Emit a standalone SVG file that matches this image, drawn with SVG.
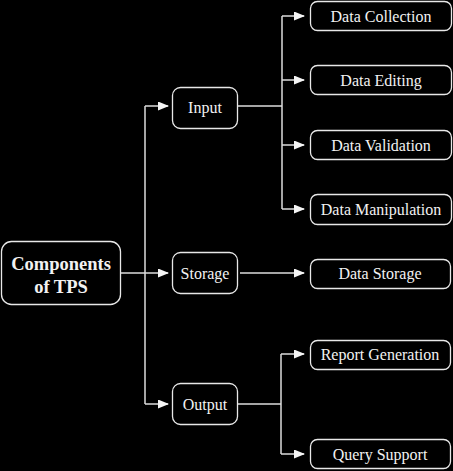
<svg xmlns="http://www.w3.org/2000/svg" width="453" height="471" viewBox="0 0 453 471">
<defs>
<style>
.bg{fill:#000}
.box{fill:#000;stroke:#e8e8e8;stroke-width:1.3}
.t{font-family:'Liberation Serif','Times New Roman',serif;font-size:16px;fill:#f2f2f2;text-anchor:middle}
.tb{font-family:'Liberation Serif','Times New Roman',serif;font-size:18.5px;font-weight:bold;fill:#f2f2f2;text-anchor:middle}
.c{fill:none;stroke:#dcdcdc;stroke-width:1.5}
.a{fill:none;stroke:#dcdcdc;stroke-width:1.5;marker-end:url(#arr)}
</style>
<marker id="arr" markerUnits="userSpaceOnUse" markerWidth="12" markerHeight="10" refX="10" refY="4.5" orient="auto">
<path d="M0,0 L11,4.5 L0,9 Z" fill="#f5f5f5"/>
</marker>
</defs>
<rect class="bg" x="0" y="0" width="453" height="471"/>
<g id="connectors">
<path class="c" d="M121,273 H145 M145,106 V404"/>
<path class="a" d="M145,106 H168"/>
<path class="a" d="M145,273 H168"/>
<path class="a" d="M145,404 H168"/>
<path class="c" d="M238,106 H282 M282,16 V209"/>
<path class="a" d="M282,16 H304"/>
<path class="a" d="M282,80 H304"/>
<path class="a" d="M282,145 H304"/>
<path class="a" d="M282,209 H304"/>
<path class="a" d="M240,273 H304"/>
<path class="c" d="M238,404 H281 M281,354 V454"/>
<path class="a" d="M281,354 H304"/>
<path class="a" d="M281,454 H304"/>
</g>
<g id="root">
<rect class="box" x="1.5" y="241.5" width="119" height="63" rx="10"/>
<text class="tb" x="61" y="270">Components</text>
<text class="tb" x="61" y="293">of TPS</text>
</g>
<g id="input">
<rect class="box" x="172.5" y="87.5" width="65" height="41" rx="8"/>
<text class="t" x="205" y="113">Input</text>
</g>
<g id="storage">
<rect class="box" x="172.5" y="252.5" width="65" height="41" rx="8"/>
<text class="t" x="205" y="279">Storage</text>
</g>
<g id="output">
<rect class="box" x="172.5" y="383.5" width="65" height="41" rx="8"/>
<text class="t" x="205" y="410">Output</text>
</g>
<g id="data-collection">
<rect class="box" x="310.5" y="1.5" width="141" height="29" rx="7"/>
<text class="t" x="381" y="21.5">Data Collection</text>
</g>
<g id="data-editing">
<rect class="box" x="310.5" y="65.5" width="141" height="29" rx="7"/>
<text class="t" x="381" y="85.5">Data Editing</text>
</g>
<g id="data-validation">
<rect class="box" x="310.5" y="130.5" width="141" height="29" rx="7"/>
<text class="t" x="381" y="150.5">Data Validation</text>
</g>
<g id="data-manipulation">
<rect class="box" x="310.5" y="194.5" width="141" height="30" rx="7"/>
<text class="t" x="381" y="215">Data Manipulation</text>
</g>
<g id="data-storage">
<rect class="box" x="310.5" y="259.5" width="140" height="29" rx="7"/>
<text class="t" x="380" y="279">Data Storage</text>
</g>
<g id="report-generation">
<rect class="box" x="310.5" y="340.5" width="140" height="29" rx="7"/>
<text class="t" x="380" y="360">Report Generation</text>
</g>
<g id="query-support">
<rect class="box" x="310.5" y="439.5" width="140" height="29" rx="7"/>
<text class="t" x="380" y="459.5">Query Support</text>
</g>
</svg>
